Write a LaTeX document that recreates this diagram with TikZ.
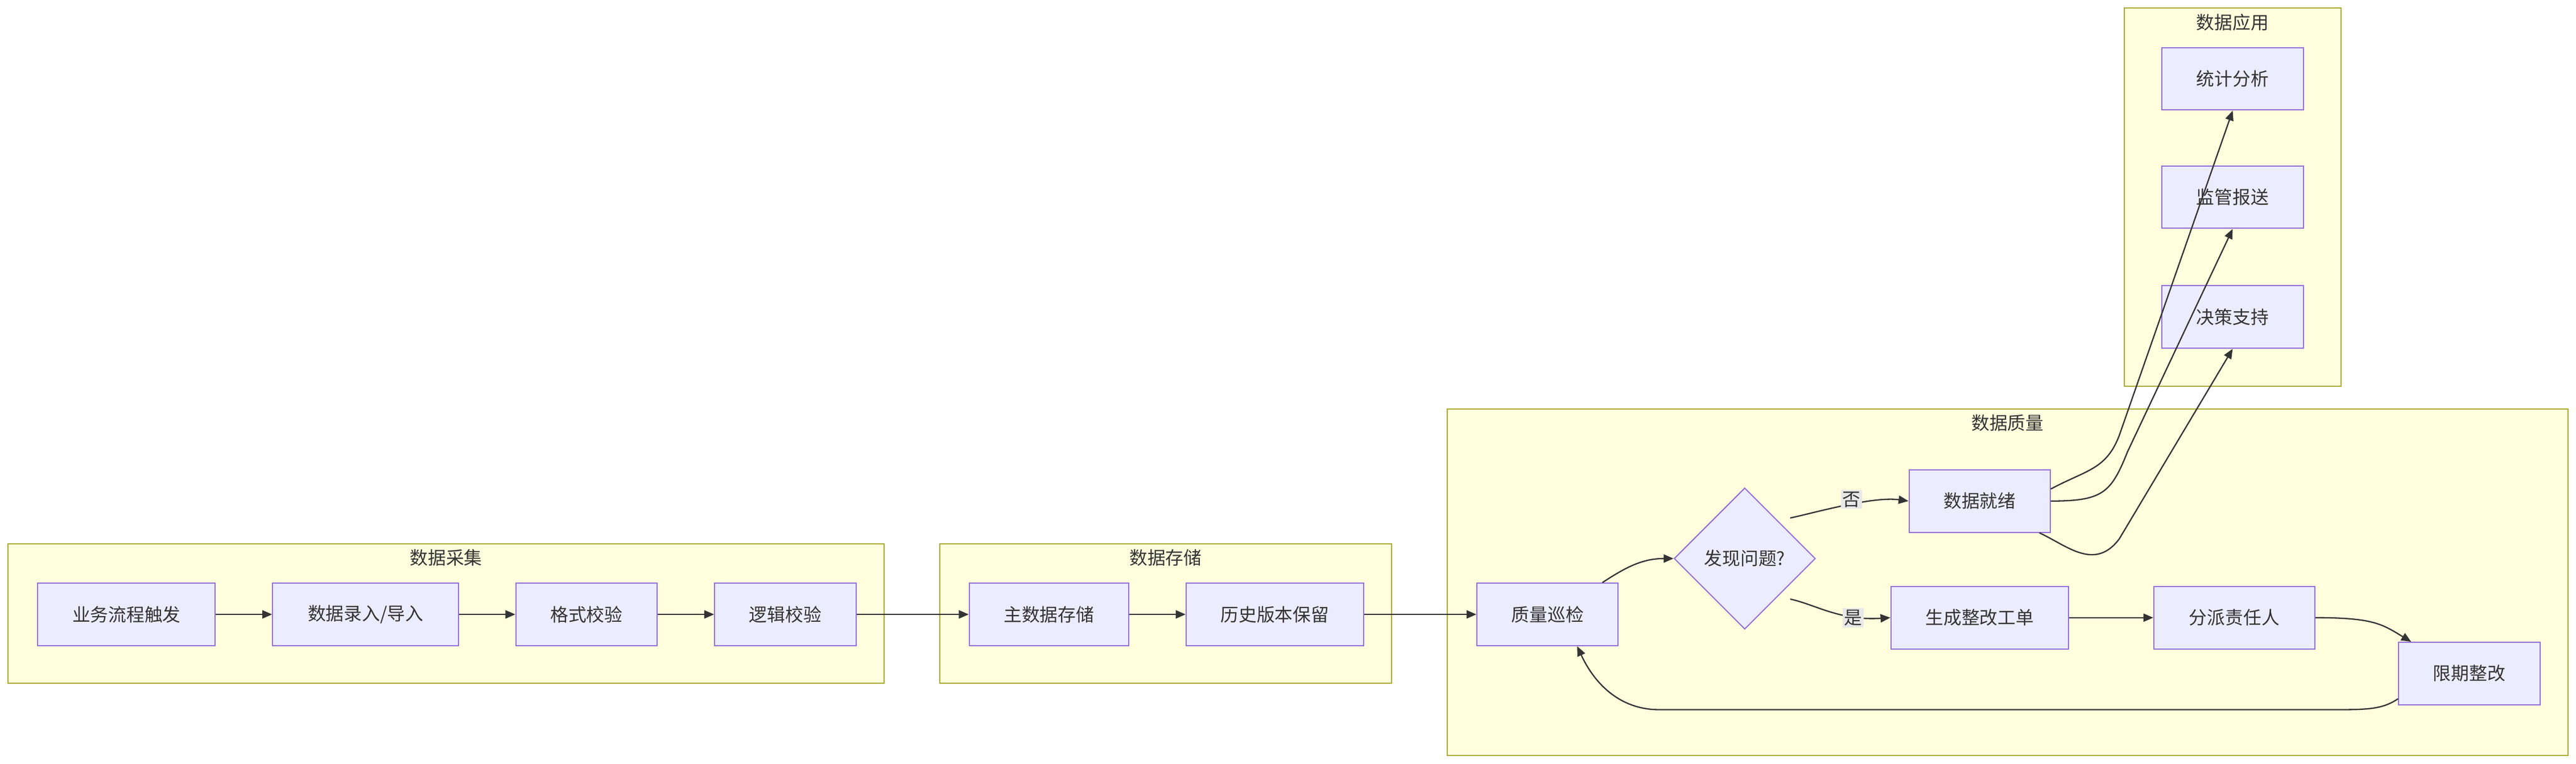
\documentclass[tikz,border=0pt]{standalone}
\usepackage{fontspec}
\setmainfont{Noto Sans CJK SC}
\usepackage{tikz}
\usetikzlibrary{arrows.meta,shapes.geometric,positioning}
\definecolor{nodefill}{HTML}{ECECFF}
\definecolor{nodeline}{HTML}{9370DB}
\definecolor{boxfill}{HTML}{FFFFDE}
\definecolor{boxline}{HTML}{AAAA33}
\definecolor{edgeline}{HTML}{333333}
\definecolor{labelbg}{HTML}{E8E8E8}
\tikzset{>={Triangle[length=6pt,width=5pt]}}
\tikzset{%
    proc/.style={draw=nodeline,fill=nodefill,line width=0.7pt,minimum height=38pt,
        text=edgeline,font=\fontsize{11}{13}\selectfont},
    check/.style={proc,diamond,aspect=1,inner sep=1pt,minimum size=86pt},
    group/.style={draw=boxline,fill=boxfill,line width=0.7pt},
    grouptitle/.style={text=edgeline,font=\fontsize{11}{13}\selectfont,below},
    flow/.style={->,draw=edgeline,line width=0.8pt},
    answer/.style={fill=labelbg,text=edgeline,inner sep=1pt,font=\fontsize{11}{13}\selectfont}
}

\begin{document}
\begin{tikzpicture}[x=1pt,y=-1pt]
    \useasboundingbox (0,0) rectangle (1568,465);

    % groups
    \draw[group] (5,331) rectangle (538,416);
    \node[grouptitle] (tCollect) at (271.5,331) {数据采集};
    \draw[group] (572,331) rectangle (847,416);
    \node[grouptitle] (tStore) at (709.5,331) {数据存储};
    \draw[group] (881,249) rectangle (1563,460);
    \node[grouptitle] (tQuality) at (1222,249) {数据质量};
    \draw[group] (1293,5) rectangle (1425,235);
    \node[grouptitle] (tUse) at (1359,5) {数据应用};

    % nodes
	\node[proc,minimum width=108pt] (trigger) at (77,374) {业务流程触发};
	\node[proc,minimum width=113pt] (entry) at (222.5,374) {数据录入/导入};
	\node[proc,minimum width=86pt] (format) at (357,374) {格式校验};
	\node[proc,minimum width=86pt] (logic) at (478,374) {逻辑校验};
	\node[proc,minimum width=97pt] (master) at (638.5,374) {主数据存储};
	\node[proc,minimum width=108pt] (history) at (776,374) {历史版本保留};
	\node[proc,minimum width=86pt] (inspect) at (942,374) {质量巡检};
	\node[check] (found) at (1062,340) {发现问题?};
	\node[proc,minimum width=86pt] (ready) at (1205,305) {数据就绪};
	\node[proc,minimum width=108pt] (order) at (1205,376) {生成整改工单};
	\node[proc,minimum width=98pt] (assign) at (1360,376) {分派责任人};
	\node[proc,minimum width=86pt] (fix) at (1503,410) {限期整改};
	\node[proc,minimum width=86pt] (decide) at (1359,193) {决策支持};
	\node[proc,minimum width=86pt] (report) at (1359,120) {监管报送};
	\node[proc,minimum width=86pt] (stats) at (1359,48) {统计分析};

    % edges
	\draw[flow] (trigger) -- (entry);
	\draw[flow] (entry) -- (format);
	\draw[flow] (format) -- (logic);
	\draw[flow] (logic) -- (master);
	\draw[flow] (master) -- (history);
	\draw[flow] (history) -- (inspect);
	\draw[flow] ([xshift=-10pt]inspect.north east)
        .. controls (990,345) and (1000,340) .. (found.west);
	\draw[flow] ([xshift=6pt,yshift=3pt]found.north east)
        .. controls (1105,312) and (1140,302) .. (ready.west);
	\draw[flow] ([xshift=6pt,yshift=-3pt]found.south east)
        .. controls (1105,368) and (1120,378) .. (order.west);
	\node[answer] (no) at (1127,304) {否};
	\node[answer] (yes) at (1128,376) {是};
	\draw[flow] (order) -- (assign);
	\draw[flow] (assign.east) .. controls (1445,376) and (1450,380) .. ([xshift=8pt]fix.north west);
	\draw[flow] ([yshift=4pt]fix.south west)
        .. controls (1450,432) and (1440,432) .. (1420,432) -- (1010,432)
        .. controls (985,432) and (970,415) .. ([xshift=18pt]inspect.south);
	\draw[flow] ([yshift=-12pt]ready.north east)
        .. controls (1270,286) and (1282,286) .. (1290,265) -- (stats.south);
	\draw[flow] (ready.east) .. controls (1280,305) and (1285,300) .. (1295,275) -- (report.south);
	\draw[flow] ([xshift=-7pt]ready.south east)
        .. controls (1258,332) and (1275,348) .. (1290,328) -- (decide.south);
\end{tikzpicture}
\end{document}
